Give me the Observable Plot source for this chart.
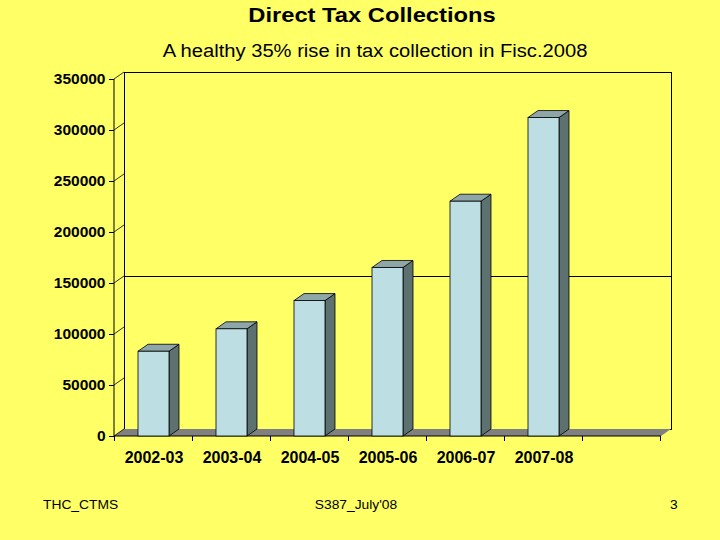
<!DOCTYPE html>
<html>
<head>
<meta charset="utf-8">
<script src="https://cdn.jsdelivr.net/npm/d3@7"></script>
<script src="https://cdn.jsdelivr.net/npm/@observablehq/plot@0.6"></script>
<style>
  html, body { margin: 0; padding: 0; background: #FFFF66; }
  #page { position: relative; width: 720px; height: 540px; overflow: hidden; background: #FFFF66;
          font-family: "Liberation Sans", Arial, sans-serif; color: #000; }
  #chart { position: absolute; left: 0; top: 0; }
  .txt { position: absolute; white-space: nowrap; line-height: 1; }
  .ctr { text-align: center; width: 600px; }
</style>
</head>
<body>
<div id="page">
  <div id="chart"></div>
  <div class="txt ctr" style="left:72px; top:4px; font-size:21px; font-weight:bold; transform:scaleX(1.13);">Direct Tax Collections</div>
  <div class="txt ctr" style="left:75px; top:42px; font-size:18px; transform:scaleX(1.12);">A healthy 35% rise in tax collection in Fisc.2008</div>
  <div class="txt" style="left:43px; top:499px; font-size:12px; transform:scaleX(1.15); transform-origin:left center;">THC_CTMS</div>
  <div class="txt ctr" style="left:56px; top:499px; font-size:12px; transform:scaleX(1.15);">S387_July'08</div>
  <div class="txt" style="left:670px; top:499px; font-size:12px; transform:scaleX(1.15); transform-origin:left center;">3</div>
</div>
<script>
// ---- data ----
const years = ["2002-03", "2003-04", "2004-05", "2005-06", "2006-07", "2007-08"];
const collections = [83088, 105088, 132771, 165216, 230181, 312213];
const yTicks = [0, 50000, 100000, 150000, 200000, 250000, 300000, 350000];
const gridValues = [150000];
const slots = [...years, ""]; // trailing empty category slot

const data = years.map((year, i) => ({year, value: collections[i]}));

const DX = 10, DY = -7; // 3D depth offset
const PAD_INNER = 0.603;

function depthMark(index, scales, values, dim) {
  const x = scales.x, y = scales.y;
  const step = x(slots[1]) - x(slots[0]);
  const bw = typeof x.bandwidth === "function" ? x.bandwidth() : step * (1 - PAD_INNER);
  const left = dim.marginLeft, right = dim.width - dim.marginRight;
  const y0 = y(0), yTop = y(yTicks[yTicks.length - 1]);
  const g = d3.create("svg:g");
  const poly = (pts, fill, stroke) => g.append("polygon")
    .attr("points", pts.map(p => p.join(",")).join(" "))
    .attr("fill", fill).attr("stroke", stroke || "none").attr("stroke-width", 0.8)
    .attr("stroke-linejoin", "round");
  // floor
  poly([[left, y0], [left + DX, y0 + DY], [right + DX, y0 + DY], [right, y0]], "#808080");
  // front y axis line
  g.append("line").attr("x1", left).attr("x2", left).attr("y1", yTop).attr("y2", y0)
    .attr("stroke", "#000");
  // diagonal ticks
  for (const t of yTicks) {
    g.append("line").attr("x1", left).attr("y1", y(t)).attr("x2", left + DX).attr("y2", y(t) + DY)
      .attr("stroke", "#000").attr("stroke-width", 0.8);
  }
  // front x axis line
  g.append("line").attr("x1", left).attr("x2", right).attr("y1", y0).attr("y2", y0).attr("stroke", "#000");
  // x ticks at band boundaries
  const off = (step - bw) / 2;
  const bounds = slots.map(s => x(s) - off);
  bounds.push(bounds[bounds.length - 1] + step);
  for (const b of bounds) {
    g.append("line").attr("x1", b).attr("x2", b).attr("y1", y0).attr("y2", y0 + 5).attr("stroke", "#000");
  }
  // bar side and top faces
  for (const d of data) {
    const xl = x(d.year), xr = xl + bw, yv = y(d.value);
    poly([[xr, yv], [xr + DX, yv + DY], [xr + DX, y0 + DY], [xr, y0]], "#5E7171", "#000");
    poly([[xl, yv], [xl + DX, yv + DY], [xr + DX, yv + DY], [xr, yv]], "#8FA6A8", "#000");
  }
  return g.node();
}

const chart = Plot.plot({
  width: 720,
  height: 540,
  marginLeft: 114,
  marginRight: 59,
  marginTop: 79,
  marginBottom: 104,
  style: {background: "transparent", fontFamily: "'Liberation Sans', Arial, sans-serif", fontWeight: "bold", color: "#000"},
  x: {type: "band", domain: slots, paddingInner: PAD_INNER, paddingOuter: PAD_INNER / 2, label: null},
  y: {domain: [0, 350000], label: null},
  marks: [
    Plot.frame({dx: DX, dy: DY, stroke: "#000"}),
    Plot.ruleY(gridValues, {dx: DX, dy: DY, stroke: "#000"}),
    depthMark,
    Plot.barY(data, {x: "year", y: "value", fill: "#BDDFE3", stroke: "#000", strokeWidth: 0.8}),
    Plot.axisY({ticks: yTicks, tickSize: 5, tickPadding: 4, tickFormat: d3.format("d"), fontSize: 15.5, fontWeight: "bold"}),
    Plot.axisX({tickSize: 0, tickPadding: 15, fontSize: 16, fontWeight: "bold"})
  ]
});
document.getElementById("chart").appendChild(chart);
</script>
</body>
</html>
